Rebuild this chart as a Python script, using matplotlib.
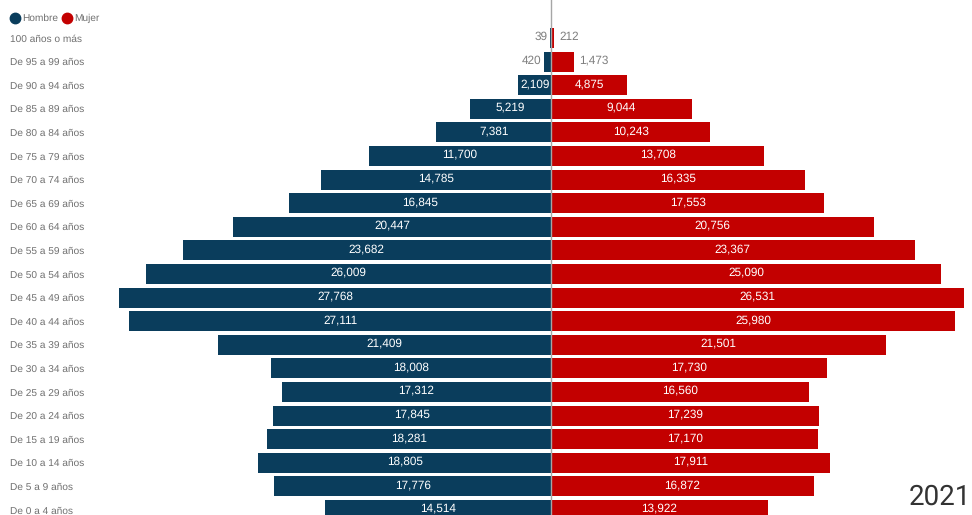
import matplotlib.pyplot as plt
from matplotlib.lines import Line2D
import numpy as np

# -----------------------------
# DATA
# -----------------------------
age_groups = [
    "100 años o más", "De 95 a 99 años", "De 90 a 94 años", "De 85 a 89 años",
    "De 80 a 84 años", "De 75 a 79 años", "De 70 a 74 años", "De 65 a 69 años",
    "De 60 a 64 años", "De 55 a 59 años", "De 50 a 54 años", "De 45 a 49 años",
    "De 40 a 44 años", "De 35 a 39 años", "De 30 a 34 años", "De 25 a 29 años",
    "De 20 a 24 años", "De 15 a 19 años", "De 10 a 14 años", "De 5 a 9 años",
    "De 0 a 4 años",
]
hombre = [39, 420, 2109, 5219, 7381, 11700, 14785, 16845, 20447, 23682, 26009,
          27768, 27111, 21409, 18008, 17312, 17845, 18281, 18805, 17776, 14514]
mujer = [212, 1473, 4875, 9044, 10243, 13708, 16335, 17553, 20756, 23367, 25090,
         26531, 25980, 21501, 17730, 16560, 17239, 17170, 17911, 16872, 13922]
year = "2021"

# -----------------------------
# STYLE
# -----------------------------
BLUE = "#0a3d5c"
RED = "#c30000"
GREY = "#7f7f7f"
INSIDE_MIN = 2000
W, H = 972, 515
ROW0, STEP = 38, 23.6   # pixel centre of first row, row pitch

plt.rcParams["font.family"] = ["Liberation Sans", "DejaVu Sans"]
plt.rcParams["text.hinting"] = "no_hinting"

fig = plt.figure(figsize=(W / 100, H / 100), dpi=100)
ax = fig.add_axes([119 / W, 0, 1 - 119 / W, 1])

y = np.arange(len(age_groups))
ax.barh(y, [-v for v in hombre], height=0.85, color=BLUE)
ax.barh(y, mujer, height=0.85, color=RED)
ax.axvline(0, color="#a6a6a6", lw=1)

ax.set_xlim(-27768, 27057)
ax.set_ylim((H - ROW0) / STEP, -ROW0 / STEP)
ax.axis("off")

# value labels (nudged up a touch so the last row stays inside the frame)
for i, (h, m) in enumerate(zip(hombre, mujer)):
    ty = i - 0.05
    if h >= INSIDE_MIN:
        ax.text(-h / 2, ty, f"{h:,}", color="white", ha="center", va="center", fontsize=8.5)
    else:
        ax.text(-h - 190, ty, f"{h:,}", color=GREY, ha="right", va="center", fontsize=8.5)
    if m >= INSIDE_MIN:
        ax.text(m / 2, ty, f"{m:,}", color="white", ha="center", va="center", fontsize=8.5)
    else:
        ax.text(m + 320, ty, f"{m:,}", color=GREY, ha="left", va="center", fontsize=8.5)

# category labels
for i, lab in enumerate(age_groups):
    fig.text(10 / W, 1 - (ROW0 + 1 + STEP * i) / H, lab, color="#707070",
             ha="left", va="center", fontsize=7.3)

# legend
ly = 1 - 18 / H
for cx, col, tx, lab in [(15, BLUE, 22, "Hombre"), (67, RED, 74, "Mujer")]:
    fig.add_artist(Line2D([cx / W], [ly], marker="o", markersize=7.5, color=col,
                          linestyle="none", transform=fig.transFigure))
    fig.text(tx / W, ly, lab, color="#707070", ha="left", va="center", fontsize=7.3)

# year
fig.text(971 / W, 1 - 497 / H, year, color="#333333", ha="right", va="center",
         fontsize=20, family="Roboto")

fig.savefig("out.png", dpi=100)
plt.close(fig)
